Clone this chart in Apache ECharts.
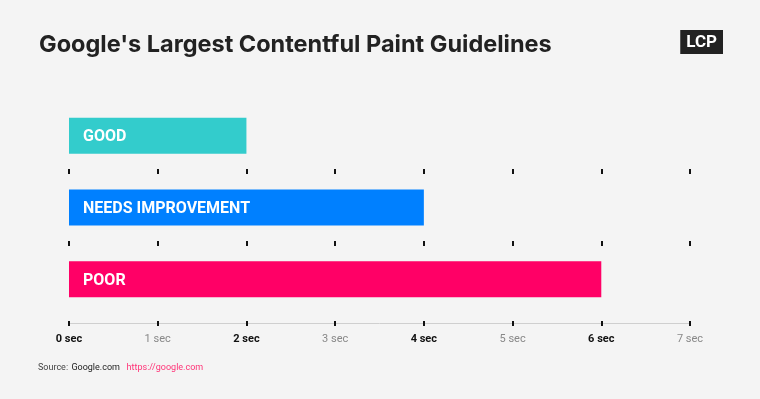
<!DOCTYPE html>
<html>
<head>
<meta charset="utf-8">
<script src="https://cdn.jsdelivr.net/npm/echarts@6/dist/echarts.min.js"></script>
<style>
html,body{margin:0;padding:0;background:#f4f4f4;}
#c{width:760px;height:399px;}
</style>
</head>
<body>
<div id="c"></div>
<script>
const categories = ['GOOD', 'NEEDS IMPROVEMENT', 'POOR'];
const values = [2, 4, 6];
const barColors = ['#33cccc', '#0080ff', '#ff0066'];
const tickLabels = ['0 sec', '1 sec', '2 sec', '3 sec', '4 sec', '5 sec', '6 sec', '7 sec'];
const boldTicks = [0, 2, 4, 6];

const FONT = 'Roboto';
const chart = echarts.init(document.getElementById('c'), null, {renderer: 'canvas'});

const GRID_TOP = 100;
const GRID_BOTTOM_Y = 315;
function tickAxis(yPos) {
  return {
    type: 'value', min: 0, max: 7, interval: 1, position: 'bottom',
    offset: yPos - GRID_BOTTOM_Y,
    axisLine: {show: false},
    axisTick: {show: true, length: 5, lineStyle: {color: '#111', width: 2}},
    axisLabel: {show: false},
    splitLine: {show: false}
  };
}

chart.setOption({
  backgroundColor: '#f4f4f4',
  animation: false,
  title: {
    text: "Google's Largest Contentful Paint Guidelines",
    left: 34, top: 28,
    textStyle: {fontFamily: 'Inter', fontWeight: 'bold', fontSize: 23.5, color: '#222'}
  },
  graphic: [
    {
      type: 'text', right: 37, top: 30,
      style: {
        text: 'LCP', fontFamily: FONT, fontWeight: 'bold', fontSize: 17, fill: '#fff',
        backgroundColor: '#222', padding: [4, 6, 3, 6]
      }
    },
    {
      type: 'text', left: 38, top: 362,
      style: {
        text: '{s|Source:} {g|Google.com}  {u|https://google.com}',
        rich: {
          s: {fontFamily: FONT, fontSize: 9, fill: '#444'},
          g: {fontFamily: FONT, fontSize: 9, fill: '#222'},
          u: {fontFamily: FONT, fontSize: 9, fill: '#ff3377'}
        }
      }
    }
  ],
  grid: {left: 69, right: 70, top: GRID_TOP, bottom: 399 - GRID_BOTTOM_Y, containLabel: false},
  xAxis: [
    {
      type: 'value', min: 0, max: 7, interval: 1, position: 'bottom', offset: 8.5,
      axisLine: {show: true, lineStyle: {color: '#cfcfcf', width: 1}},
      axisTick: {show: false},
      splitLine: {show: false},
      axisLabel: {
        margin: 10,
        formatter: function (v) {
          const t = tickLabels[v];
          return boldTicks.indexOf(v) >= 0 ? '{b|' + t + '}' : '{n|' + t + '}';
        },
        rich: {
          b: {fontFamily: FONT, fontSize: 11, fontWeight: 'bold', color: '#111'},
          n: {fontFamily: FONT, fontSize: 11, color: '#888'}
        }
      }
    },
    tickAxis(321),
    tickAxis(169),
    tickAxis(241)
  ],
  yAxis: {
    type: 'category', data: categories, inverse: true,
    axisLine: {show: false}, axisTick: {show: false}, axisLabel: {show: false}, splitLine: {show: false}
  },
  series: [{
    type: 'bar', xAxisIndex: 0,
    data: values.map((v, i) => ({value: v, itemStyle: {color: barColors[i]}})),
    barWidth: 36,
    label: {
      show: true, position: 'insideLeft', distance: 14, offset: [0, 1.5],
      formatter: p => categories[p.dataIndex],
      fontFamily: FONT, fontWeight: 'bold', fontSize: 16, color: '#fff'
    }
  }]
});
</script>
</body>
</html>
